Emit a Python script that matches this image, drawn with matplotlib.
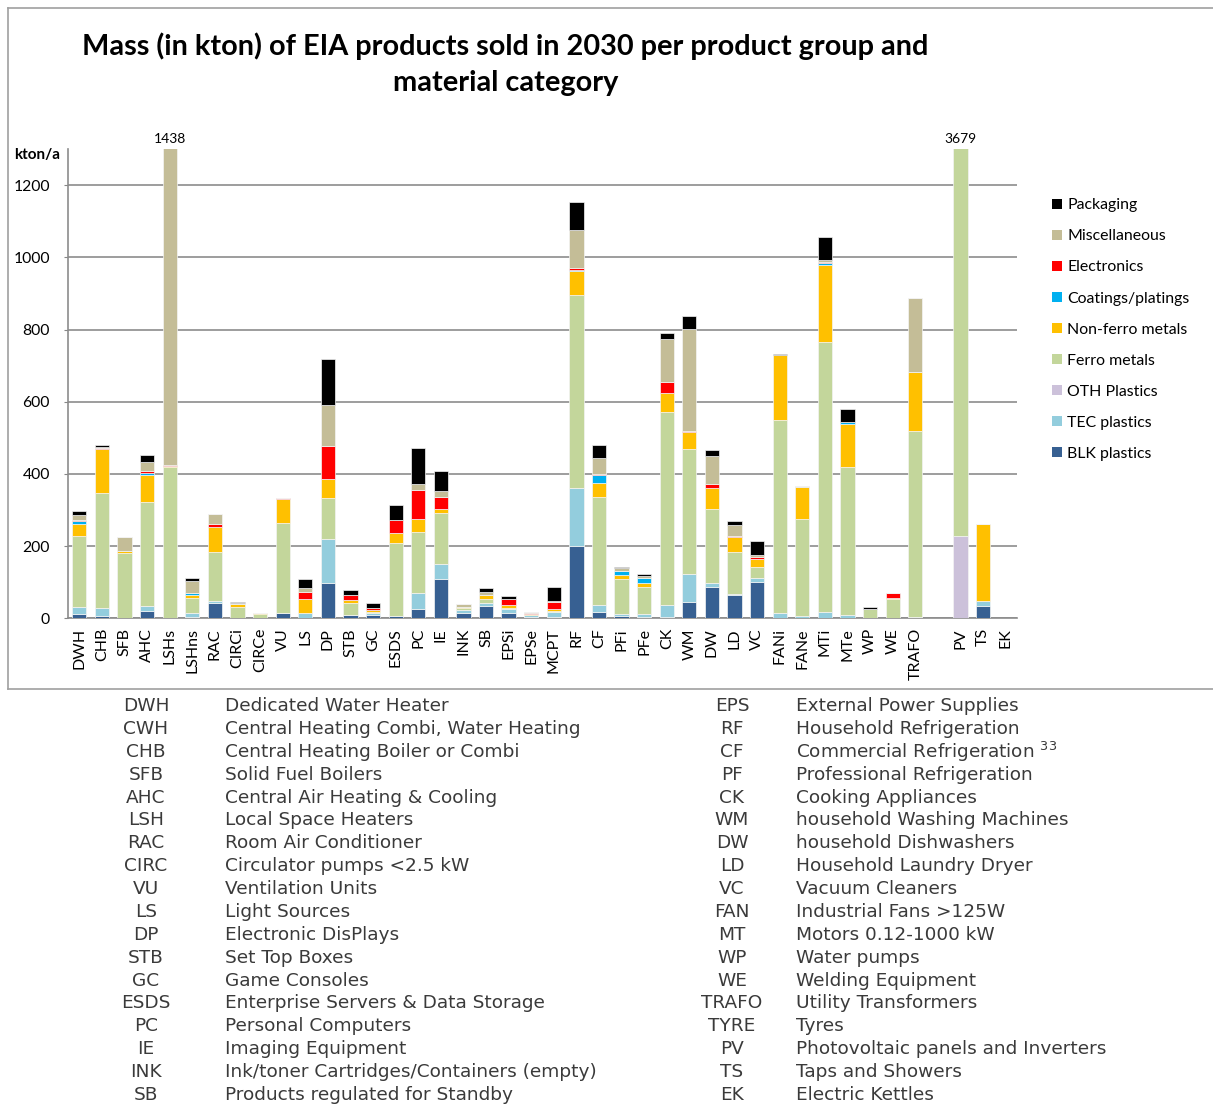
import matplotlib
matplotlib.use("Agg")
import matplotlib.pyplot as plt
import numpy as np
from matplotlib.patches import Patch
from matplotlib.lines import Line2D

categories = ["DWH", "CHB", "SFB", "AHC", "LSHs", "LSHns", "RAC", "CIRCi", "CIRCe", "VU",
              "LS", "DP", "STB", "GC", "ESDS", "PC", "IE", "INK", "SB", "EPSi",
              "EPSe", "MCPT", "RF", "CF", "PFi", "PFe", "CK", "WM", "DW", "LD",
              "VC", "FANi", "FANe", "MTi", "MTe", "WP", "WE", "TRAFO", "", "PV",
              "TS", "EK"]

blk_plastics = [11, 6, 0, 21, 0, 4, 43, 1, 0, 14,
                2, 99, 8, 8, 6, 25, 110, 16, 34, 14,
                4, 3, 200, 18, 7, 4, 4, 45, 88, 64,
                101, 0, 0, 0, 0, 0, 0, 0, 0, 0,
                34, 0]
tec_plastics = [19, 22, 1, 13, 0, 12, 6, 0, 0, 1,
                14, 122, 2, 6, 1, 44, 40, 7, 8, 13,
                4, 14, 162, 18, 5, 7, 34, 79, 9, 2,
                12, 16, 7, 17, 9, 1, 0, 3, 0, 0,
                14, 0]
oth_plastics = [0, 0, 0, 0, 0, 0, 0, 0, 0, 0,
                0, 0, 0, 0, 0, 0, 0, 0, 0, 0,
                0, 0, 0, 0, 0, 0, 0, 0, 0, 0,
                0, 0, 0, 0, 0, 0, 0, 0, 0, 228,
                0, 0]
ferro_metals = [198, 319, 181, 289, 418, 41, 134, 30, 11, 248,
                0, 112, 32, 4, 202, 170, 141, 6, 11, 2,
                1, 3, 534, 299, 96, 77, 534, 344, 205, 118,
                28, 532, 268, 749, 410, 25, 53, 516, 0, 3451,
                0, 0]
non_ferro_metals = [34, 123, 5, 74, 3, 8, 70, 9, 3, 68,
                    37, 54, 9, 4, 28, 35, 12, 1, 11, 8,
                    2, 6, 65, 39, 12, 11, 53, 47, 58, 41,
                    24, 180, 88, 214, 120, 0, 3, 163, 0, 0,
                    213, 0]
coatings = [8, 0, 0, 5, 0, 4, 0, 0, 0, 0,
            0, 0, 0, 0, 0, 0, 0, 0, 0, 0,
            0, 0, 4, 23, 12, 12, 0, 0, 0, 0,
            0, 0, 0, 5, 4, 0, 0, 0, 0, 0,
            0, 0]
electronics = [2, 2, 0, 7, 3, 1, 9, 0, 0, 3,
               19, 90, 13, 6, 35, 81, 32, 0, 0, 17,
               5, 20, 4, 3, 0, 0, 30, 5, 13, 3,
               6, 0, 0, 3, 2, 0, 13, 0, 0, 0,
               0, 0]
miscellaneous = [13, 2, 37, 24, 1014, 34, 27, 2, 0, 0,
                 13, 113, 0, 0, 0, 18, 19, 9, 9, 0,
                 1, 2, 106, 43, 6, 6, 118, 282, 77, 31,
                 5, 2, 3, 5, 0, 0, 0, 206, 0, 0,
                 0, 0]
packaging = [13, 7, 2, 20, 0, 9, 0, 2, 1, 0,
             25, 128, 14, 14, 41, 100, 54, 0, 11, 8,
             0, 38, 79, 36, 4, 5, 16, 35, 17, 11,
             38, 3, 0, 63, 36, 5, 0, 0, 0, 0,
             0, 0]

series_names = ["BLK plastics", "TEC plastics", "OTH Plastics", "Ferro metals",
                "Non-ferro metals", "Coatings/platings", "Electronics",
                "Miscellaneous", "Packaging"]
series_values = [blk_plastics, tec_plastics, oth_plastics, ferro_metals,
                 non_ferro_metals, coatings, electronics, miscellaneous, packaging]
series_colors = ["#376092", "#93CDDD", "#CCC1DA", "#C3D69B", "#FFC000",
                 "#00B0F0", "#FF0000", "#C4BD97", "#000000"]

y_ticks = [0, 200, 400, 600, 800, 1000, 1200]

abbr_left = ["DWH", "CWH", "CHB", "SFB", "AHC", "LSH", "RAC", "CIRC", "VU", "LS",
             "DP", "STB", "GC", "ESDS", "PC", "IE", "INK", "SB"]
desc_left = ["Dedicated Water Heater", "Central Heating Combi, Water Heating",
             "Central Heating Boiler or Combi", "Solid Fuel Boilers",
             "Central Air Heating & Cooling", "Local Space Heaters",
             "Room Air Conditioner", "Circulator pumps <2.5 kW", "Ventilation Units",
             "Light Sources", "Electronic DisPlays", "Set Top Boxes", "Game Consoles",
             "Enterprise Servers & Data Storage", "Personal Computers",
             "Imaging Equipment", "Ink/toner Cartridges/Containers (empty)",
             "Products regulated for Standby"]
abbr_right = ["EPS", "RF", "CF", "PF", "CK", "WM", "DW", "LD", "VC", "FAN", "MT",
              "WP", "WE", "TRAFO", "TYRE", "PV", "TS", "EK"]
desc_right = ["External Power Supplies", "Household Refrigeration",
              "Commercial Refrigeration $^{33}$", "Professional Refrigeration",
              "Cooking Appliances", "household Washing Machines",
              "household Dishwashers", "Household Laundry Dryer", "Vacuum Cleaners",
              "Industrial Fans >125W", "Motors 0.12-1000 kW", "Water pumps",
              "Welding Equipment", "Utility Transformers", "Tyres",
              "Photovoltaic panels and Inverters", "Taps and Showers",
              "Electric Kettles"]

W, H = 1213, 1106
fig = plt.figure(figsize=(W / 100, H / 100), dpi=100)
CH = ["Lato", "DejaVu Sans"]

ax = fig.add_axes([68 / W, 1 - 618.3 / H, (1017 - 68) / W, (618.3 - 149) / H])
x = np.arange(len(categories))
bottom = np.zeros(len(categories))
for name, vals, col in zip(series_names, series_values, series_colors):
    v = np.array(vals, dtype=float)
    ax.bar(x, v, bottom=bottom, width=0.63, color=col, edgecolor="#f4f4f4",
           linewidth=0.5, label=name, zorder=3)
    bottom += v

ax.set_xlim(-0.5, len(categories) - 0.5)
ax.set_ylim(0, 1300)
ax.set_yticks(y_ticks)
ax.set_yticklabels([str(t) for t in y_ticks], fontfamily=CH, fontsize=11.3)
ax.set_xticks(x)
ax.set_xticklabels(categories, rotation=90, fontfamily=CH, fontsize=11.5)
ax.tick_params(axis="x", length=0, pad=7)
ax.tick_params(axis="y", length=3, color="#868686", pad=10)
ax.grid(axis="y", color="#8c8c8c", linewidth=1.2, zorder=0)
for s in ["top", "right"]:
    ax.spines[s].set_visible(False)
for s in ["left", "bottom"]:
    ax.spines[s].set_color("#8c8c8c")
    ax.spines[s].set_linewidth(1.2)

# labels for clipped bars
totals = bottom
ymax = ax.get_ylim()[1]
for i, t in enumerate(totals):
    if t > ymax:
        ax.text(i, ymax + 12, f"{int(round(t))}", ha="center", va="bottom",
                fontfamily=CH, fontsize=10, clip_on=False)

fig.text(14 / W, 1 - 155 / H, "kton/a", fontfamily=CH, fontsize=11,
         fontweight="bold", ha="left", va="center")

fig.text(505.5 / W, 1 - 46 / H,
         "Mass (in kton) of EIA products sold in 2030 per product group and",
         fontfamily=CH, fontsize=20.8, fontweight="bold", ha="center", va="center")
fig.text(506 / W, 1 - 83 / H, "material category",
         fontfamily=CH, fontsize=20.8, fontweight="bold", ha="center", va="center")

handles = [Patch(facecolor=c, edgecolor="none") for c in series_colors][::-1]
labels = series_names[::-1]
leg = fig.legend(handles, labels, loc="upper left",
                 bbox_to_anchor=(1038 / W, 1 - 184 / H), frameon=False,
                 prop={"family": CH, "size": 11.4}, handlelength=0.6,
                 handleheight=0.6, handletextpad=0.35, labelspacing=1.08)

# outer frame
fig.add_artist(Line2D([8 / W, 8 / W], [1 - 8 / H, 1 - 688.5 / H], color="#a0a0a0", lw=1.2))
fig.add_artist(Line2D([8 / W, 1.0], [1 - 8 / H, 1 - 8 / H], color="#a0a0a0", lw=1.2))
fig.add_artist(Line2D([8 / W, 1.0], [1 - 688.5 / H, 1 - 688.5 / H], color="#a0a0a0", lw=1.2))

# description table
tcol = "#3a3a3a"
row0 = 706
dy = (1095 - 706) / 17
fs = 13.3
for k, (a, d) in enumerate(zip(abbr_left, desc_left)):
    yy = 1 - (row0 + k * dy) / H
    fig.text(146 / W, yy, a, ha="center", va="center", fontsize=fs,
             family="DejaVu Sans", color=tcol)
    fig.text(225 / W, yy, d, ha="left", va="center", fontsize=fs,
             family="DejaVu Sans", color=tcol)
for k, (a, d) in enumerate(zip(abbr_right, desc_right)):
    yy = 1 - (row0 + k * dy) / H
    fig.text(732 / W, yy, a, ha="center", va="center", fontsize=fs,
             family="DejaVu Sans", color=tcol)
    fig.text(796 / W, yy, d, ha="left", va="center", fontsize=fs,
             family="DejaVu Sans", color=tcol)

fig.savefig("out.png", dpi=100)
